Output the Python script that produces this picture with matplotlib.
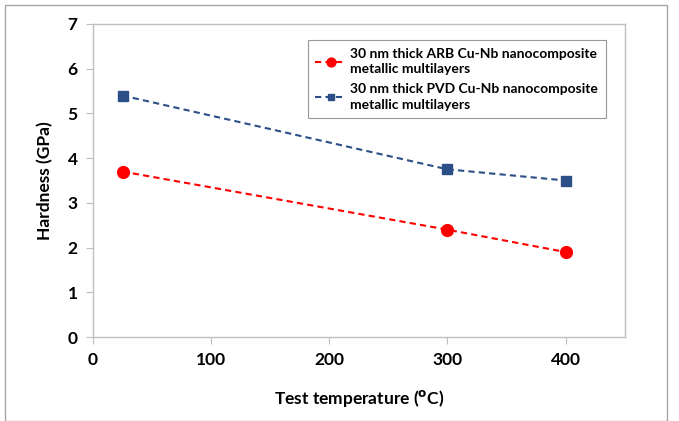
import matplotlib
matplotlib.use("Agg")
import matplotlib.pyplot as plt
from matplotlib.patches import Rectangle

temps = [25, 300, 400]
arb_hardness = [3.7, 2.4, 1.9]
pvd_hardness = [5.4, 3.75, 3.5]
arb_label = "30 nm thick ARB Cu-Nb nanocomposite\nmetallic multilayers"
pvd_label = "30 nm thick PVD Cu-Nb nanocomposite\nmetallic multilayers"
xticks = [0, 100, 200, 300, 400]
yticks = [0, 1, 2, 3, 4, 5, 6, 7]

plt.rcParams['font.family'] = ['Lato', 'DejaVu Sans']

fig = plt.figure(figsize=(6.79, 4.21), dpi=100)
ax = fig.add_axes([0.137, 0.1995, 0.783, 0.7435])

ax.plot(temps, arb_hardness, color='#FF0000', linestyle=(0, (3, 2)), linewidth=1.5,
        marker='o', markersize=8.5, label=arb_label)
ax.plot(temps, pvd_hardness, color='#2B4F86', linestyle=(0, (3, 2)), linewidth=1.5,
        marker='s', markersize=6.5, label=pvd_label)

ax.set_xlim(0, 450)
ax.set_ylim(0, 7)
ax.set_xticks(xticks)
ax.set_yticks(yticks)
for lab in ax.get_xticklabels() + ax.get_yticklabels():
    lab.set_fontweight('bold')
    lab.set_fontsize(12.5)
ax.tick_params(direction='out', length=5, color='#BFBFBF', pad=6)
for s in ax.spines.values():
    s.set_color('#BFBFBF')
    s.set_linewidth(1)

ax.set_xlabel('Test temperature ($^{\\mathbf{o}}$C)', fontsize=12.5, fontweight='bold', labelpad=14)
ax.set_ylabel('Hardness (GPa)', fontsize=12.5, fontweight='bold', labelpad=10)

leg = ax.legend(loc='upper right', bbox_to_anchor=(0.977, 0.97),
                prop={'weight': 'bold', 'size': 10}, frameon=True, fancybox=False,
                edgecolor='#7F7F7F', handlelength=2.2, handletextpad=0.3,
                borderpad=0.55, labelspacing=0.55, markerscale=0.75)
leg.get_frame().set_linewidth(0.8)
for t in leg.get_texts():
    t.set_linespacing(1.35)

fig.patches.append(Rectangle((5/679, 0.0), 662/679, 1 - 5/421, transform=fig.transFigure,
                             fill=False, edgecolor='#A6A6A6', linewidth=1))

fig.savefig('out.png', dpi=100)
